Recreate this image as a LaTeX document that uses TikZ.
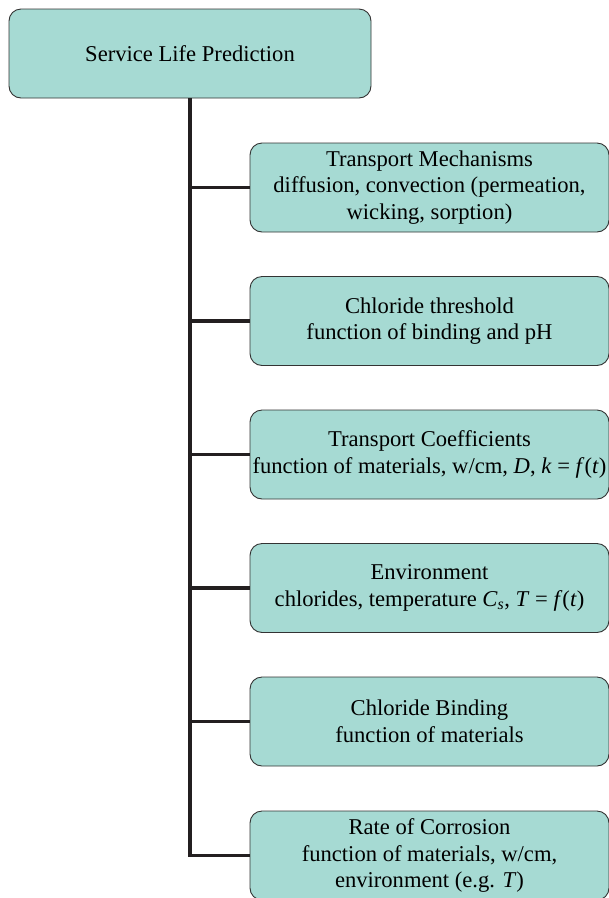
\documentclass[tikz,border=0pt]{standalone}
\usepackage{fontspec}
\setmainfont{Liberation Serif}
\begin{document}
\begin{tikzpicture}[x=1pt,y=-1pt,
  box/.style={draw=black!80,line width=0.9pt,fill=boxfill,rounded corners=12pt,
    minimum height=89pt,align=center,inner sep=0pt,
    font=\fontsize{22.6}{26.5}\selectfont},
  child/.style={box,minimum width=359pt},
  trunk/.style={line width=3.8pt,draw=linecol}]
\definecolor{boxfill}{HTML}{A6DAD3}
\definecolor{linecol}{HTML}{231F20}
\useasboundingbox (0,0) rectangle (609,898);
\clip (0,0) rectangle (609,898);
\node[box,minimum width=362pt] (root) at (190,53.5) {Service Life Prediction};
\node[child] (c1) at (429.5,187.5) {Transport Mechanisms\\diffusion, convection (permeation,\\wicking, sorption)};
\node[child] (c2) at (429.5,321) {Chloride threshold\\function of binding and pH};
\node[child] (c3) at (429.5,454.5) {Transport Coefficients\\function of materials, w/cm, \textit{D}, \textit{k} = \textit{f}(\textit{t})};
\node[child] (c4) at (429.5,588) {Environment\\chlorides, temperature \textit{C}\textsubscript{\textit{s}}, \textit{T} = \textit{f}(\textit{t})};
\node[child] (c5) at (429.5,721.5) {Chloride Binding\\function of materials};
\node[child] (c6) at (429.5,855.5) {Rate of Corrosion\\function of materials, w/cm,\\environment (e.g. \textit{T})};
\coordinate (t1) at (root.south |- c1.west);
\coordinate (t2) at (root.south |- c2.west);
\coordinate (t3) at (root.south |- c3.west);
\coordinate (t4) at (root.south |- c4.west);
\coordinate (t5) at (root.south |- c5.west);
\draw[trunk] (root.south) -- (root.south |- c6.west) -- (c6.west);
\foreach \i in {1,...,5} \draw[trunk] (t\i) -- (c\i.west);
\end{tikzpicture}
\end{document}
